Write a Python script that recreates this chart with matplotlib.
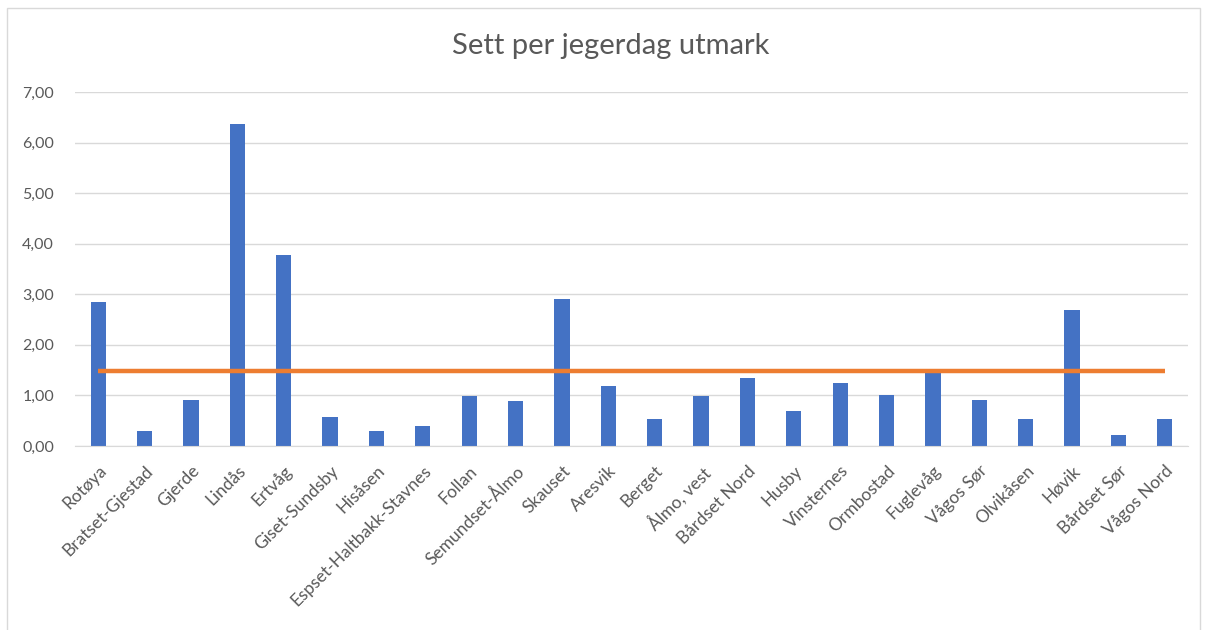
import numpy as np
import matplotlib.pyplot as plt
from matplotlib.patches import Rectangle

omrader = ["Rotøya", "Bratset-Gjestad", "Gjerde", "Lindås", "Ertvåg", "Giset-Sundsby",
           "Hisåsen", "Espset-Haltbakk-Stavnes", "Follan", "Semundset-Ålmo", "Skauset",
           "Aresvik", "Berget", "Ålmo, vest", "Bårdset Nord", "Husby", "Vinsternes",
           "Ormbostad", "Fuglevåg", "Vågos Sør", "Olvikåsen", "Høvik", "Bårdset Sør",
           "Vågos Nord"]
sett = [2.84, 0.30, 0.91, 6.36, 3.78, 0.58, 0.30, 0.40, 0.98, 0.88, 2.91,
        1.18, 0.54, 0.98, 1.35, 0.70, 1.24, 1.01, 1.45, 0.91, 0.54, 2.68, 0.21, 0.54]
snitt = [1.49] * len(omrader)

plt.rcParams['font.family'] = ['Lato', 'DejaVu Sans']
grey = '#595959'

fig = plt.figure(figsize=(12.1, 6.3), dpi=100)
# ramme rundt diagrammet
fig.patches.append(Rectangle((7/1210, -0.01), 1193/1210, 1 - 8/630 + 0.01,
                             transform=fig.transFigure, fill=False,
                             edgecolor='#d9d9d9', linewidth=1))
ax = fig.add_axes([75/1210, 1 - 446/630, 1113/1210, 354/630])

x = np.arange(len(omrader))
ax.bar(x, sett, width=0.33, color='#4472C4', zorder=2)
ax.plot(x, snitt, color='#ED7D31', linewidth=3.2, solid_capstyle='butt', zorder=3)

ax.set_xlim(-0.5, len(omrader) - 0.5)
ax.set_ylim(0, 7)
ax.set_yticks(np.arange(0, 8, 1))
ax.set_yticklabels([f"{v:.2f}".replace('.', ',') for v in np.arange(0, 8, 1)],
                   fontsize=11.5, color=grey)
ax.set_xticks(x)
ax.set_xticklabels(omrader, rotation=45, ha='right', rotation_mode='anchor',
                   fontsize=12.5, color=grey)
ax.tick_params(axis='both', length=0)
ax.tick_params(axis='y', pad=15)
ax.tick_params(axis='x', pad=12)
ax.grid(axis='y', color='#d9d9d9', linewidth=1, zorder=0)
ax.set_axisbelow(True)
for s in ['top', 'right', 'left']:
    ax.spines[s].set_visible(False)
ax.spines['bottom'].set_color('#d9d9d9')

fig.text(611/1210, 1 - 46/630, "Sett per jegerdag utmark", ha='center', va='center',
         fontsize=21, color=grey)

fig.savefig('out.png', dpi=100)
